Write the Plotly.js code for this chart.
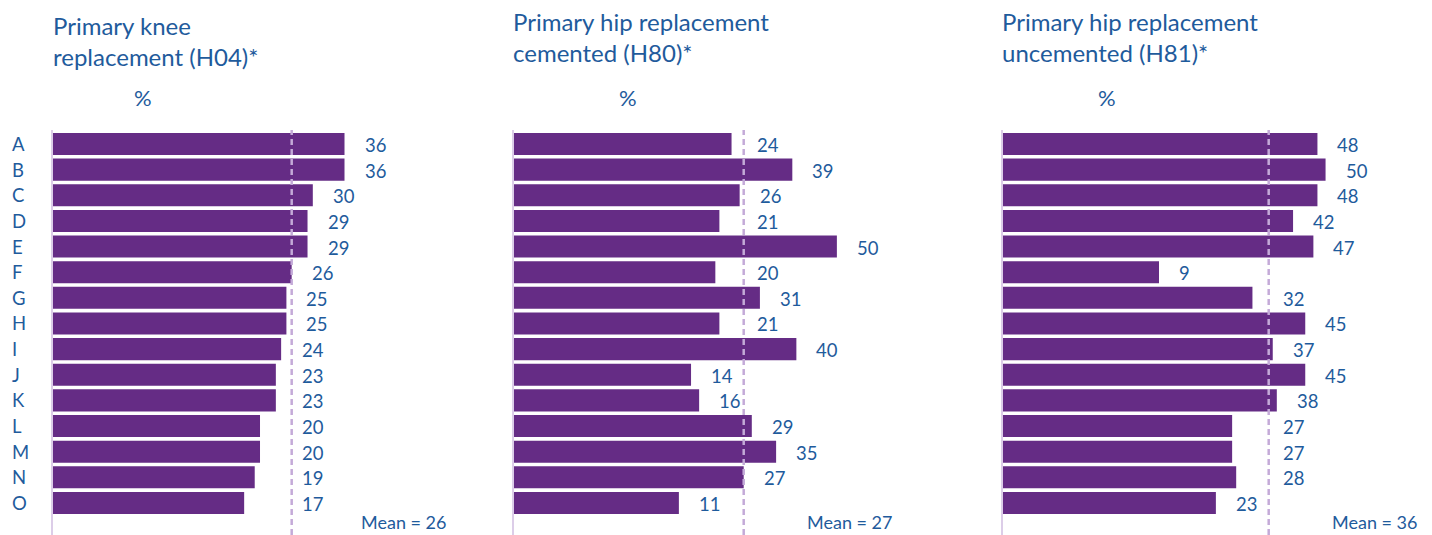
<!DOCTYPE html>
<html>
<head>
<meta charset="utf-8">
<script src="https://cdn.plot.ly/plotly-3.0.1.min.js"></script>
<style>html,body{margin:0;padding:0;background:#fff;}#chart{width:1432px;height:535px;}</style>
</head>
<body>
<div id="chart"></div>
<script>
// ---- data ----
const categories = ['A','B','C','D','E','F','G','H','I','J','K','L','M','N','O'];
const kneeH04 = [36,36,30,29,29,26,25,25,24,23,23,20,20,19,17];
const hipCementedH80 = [24,39,26,21,50,20,31,21,40,14,16,29,35,27,11];
const hipUncementedH81 = [48,50,48,42,47,9,32,45,37,45,38,27,27,28,23];
const means = [26,27,36];
const panelTitles = ['Primary knee<br>replacement (H04)*','Primary hip replacement<br>cemented (H80)*','Primary hip replacement<br>uncemented (H81)*'];
const unitLabel = '%';
const meanPrefix = 'Mean = ';

// ---- layout config ----
const W = 1432, H = 535;
const FONT = 'Lato, "Open Sans", sans-serif';
const BLUE = '#1f5b9c';
const BAR = '#652c85';
const DASH = '#c4aad8';
const AXIS = '#dccde8';
const panels = [
  {values: kneeH04, domPx: [53, 448], range: [-19.2, 55.6], titleX: 51, titleY: 9, pctX: 143, clear: 12, push: 8},
  {values: hipCementedH80, domPx: [514, 894], range: [-29.7, 64.1], titleX: 511, titleY: 5, pctX: 627.5, clear: 3, push: 11},
  {values: hipUncementedH81, domPx: [1003, 1419], range: [-29.4, 73.0], titleX: 1000, titleY: 5, pctX: 1106.5, clear: 3, push: 12}
];
const plotTopPx = 130;
const yRange = [15.25, -0.546];

const px = v => v / W;
const py = v => 1 - v / H;

const data = [];
const annotations = [];
const shapes = [];
const layout = {
  width: W, height: H,
  margin: {l: 0, r: 0, t: 0, b: 0},
  paper_bgcolor: '#fff', plot_bgcolor: '#fff',
  showlegend: false,
  font: {family: FONT, color: BLUE},
  bargap: 0.14
};

panels.forEach((p, i) => {
  const n = i + 1;
  const xa = n === 1 ? 'x' : 'x' + n;
  const ya = n === 1 ? 'y' : 'y' + n;
  const xKey = n === 1 ? 'xaxis' : 'xaxis' + n;
  const yKey = n === 1 ? 'yaxis' : 'yaxis' + n;
  const r0 = p.range[0];
  const scale = (p.domPx[1] - p.domPx[0]) / (p.range[1] - p.range[0]); // px per unit
  const mean = means[i];

  layout[xKey] = {domain: [px(p.domPx[0]), px(p.domPx[1])], range: p.range, anchor: ya,
    showticklabels: false, showgrid: false, zeroline: false, showline: false, ticks: '', fixedrange: true};
  layout[yKey] = {domain: [0, py(plotTopPx)], anchor: xa, type: 'category', categoryarray: categories,
    range: yRange, showticklabels: false, showgrid: false, zeroline: false, ticks: '',
    showline: true, linecolor: AXIS, linewidth: 2, fixedrange: true};

  data.push({
    type: 'bar', orientation: 'h', xaxis: xa, yaxis: ya,
    y: categories, x: p.values.map(v => v - r0), base: r0,
    marker: {color: BAR, line: {width: 0}}, hoverinfo: 'skip'
  });

  // mean dashed line
  shapes.push({type: 'line', xref: xa, yref: ya + ' domain', x0: mean, x1: mean, y0: 0, y1: 1,
    line: {color: DASH, width: 2.5, dash: '6px,4px'}, layer: 'above'});

  // value labels: right of bar end, pushed past the mean line if they would cross it
  const meanPx = (mean - r0) * scale;
  p.values.forEach((v, k) => {
    const endPx = (v - r0) * scale;
    let left = endPx + 18;
    const w = String(v).length * 10.7;
    if (left < meanPx + p.push && left + w > meanPx - p.clear) left = meanPx + p.push;
    annotations.push({xref: xa, yref: ya, x: r0 + left / scale, y: categories[k], text: String(v),
      showarrow: false, xanchor: 'left', yanchor: 'middle', yshift: -1,
      font: {family: FONT, size: 18.5, color: BLUE}});
  });

  // title
  annotations.push({xref: 'paper', yref: 'paper', x: px(p.titleX), y: py(p.titleY), text: panelTitles[i],
    showarrow: false, xanchor: 'left', yanchor: 'top', align: 'left',
    font: {family: FONT, size: 24, color: BLUE}});
  // unit
  annotations.push({xref: 'paper', yref: 'paper', x: px(p.pctX), y: py(98), text: unitLabel,
    showarrow: false, xanchor: 'center', yanchor: 'middle', font: {family: FONT, size: 22, color: BLUE}});
  // mean label
  annotations.push({xref: 'paper', yref: 'paper', x: px(p.domPx[1]), y: 0, text: meanPrefix + mean,
    showarrow: false, xanchor: 'right', yanchor: 'bottom', font: {family: FONT, size: 18, color: BLUE}});
});

// category labels (left aligned, first panel only)
categories.forEach(c => {
  annotations.push({xref: 'paper', yref: 'y', x: px(10), y: c, text: c, showarrow: false,
    xanchor: 'left', yanchor: 'middle', font: {family: FONT, size: 18.5, color: BLUE}});
});

layout.annotations = annotations;
layout.shapes = shapes;

Plotly.newPlot('chart', data, layout, {displayModeBar: false, staticPlot: true});
</script>
</body>
</html>
